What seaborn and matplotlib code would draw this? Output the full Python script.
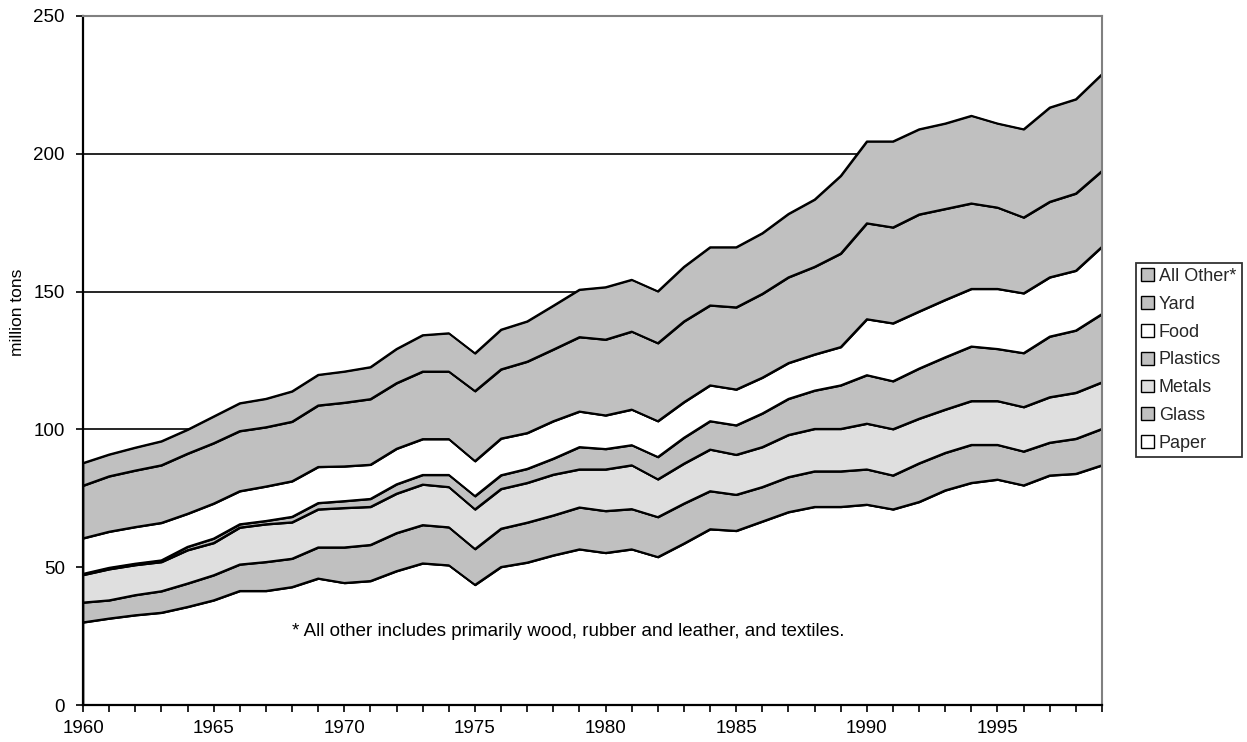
import numpy as np
import pandas as pd
import seaborn as sns
import matplotlib
matplotlib.use("Agg")
import matplotlib.pyplot as plt
from matplotlib.patches import Patch

years = list(range(1960, 2000))

paper = [30.0, 31.4, 32.6, 33.5, 35.6, 38.0, 41.4, 41.4, 42.8, 45.9,
         44.3, 45.0, 48.6, 51.4, 50.7, 43.6, 50.1, 51.7, 54.3, 56.5,
         55.2, 56.5, 53.7, 58.6, 63.8, 63.2, 66.6, 70.0, 71.9, 71.9,
         72.7, 71.0, 73.7, 77.9, 80.6, 81.8, 79.7, 83.3, 83.9, 87.0]
glass = [7.2, 6.6, 7.3, 7.8, 8.5, 9.1, 9.6, 10.5, 10.3, 11.3,
         12.9, 13.1, 13.8, 13.9, 13.8, 13.0, 13.9, 14.5, 14.5, 15.2,
         15.2, 14.6, 14.5, 14.5, 13.8, 13.1, 12.5, 12.7, 12.9, 12.9,
         12.8, 12.3, 14.0, 13.6, 13.8, 12.6, 12.3, 11.9, 12.7, 13.2]
metals = [10.0, 11.3, 10.9, 10.6, 12.1, 11.7, 13.4, 13.7, 13.2, 13.8,
          14.3, 13.8, 14.3, 14.7, 14.6, 14.4, 14.4, 14.4, 14.8, 13.8,
          15.1, 15.9, 13.7, 14.5, 15.1, 14.5, 14.5, 15.3, 15.4, 15.4,
          16.6, 16.8, 16.2, 15.7, 15.9, 15.9, 16.1, 16.5, 16.7, 16.9]
plastics = [0.4, 0.5, 0.5, 0.6, 1.2, 1.6, 1.2, 1.2, 2.0, 2.3,
            2.5, 2.9, 3.4, 3.5, 4.4, 4.8, 5.0, 5.1, 5.8, 8.1,
            7.4, 7.3, 8.1, 9.4, 10.3, 10.7, 12.2, 13.1, 13.9, 15.8,
            17.6, 17.4, 18.2, 19.0, 19.8, 18.9, 19.6, 22.0, 22.6, 24.8]
food = [12.9, 13.1, 13.3, 13.6, 12.0, 12.7, 12.0, 12.5, 12.9, 13.1,
        12.6, 12.4, 12.9, 13.0, 13.0, 12.7, 13.3, 13.0, 13.6, 12.9,
        12.2, 12.9, 13.0, 12.9, 13.0, 13.0, 13.0, 13.0, 13.1, 13.9,
        20.3, 21.0, 20.7, 20.8, 20.9, 21.8, 21.7, 21.5, 21.7, 24.4]
yard = [19.1, 20.1, 20.5, 20.9, 21.8, 21.9, 21.8, 21.5, 21.6, 22.3,
        23.1, 23.8, 23.8, 24.5, 24.5, 25.4, 25.1, 25.9, 26.0, 27.0,
        27.5, 28.3, 28.3, 29.3, 29.0, 29.8, 30.4, 31.1, 31.8, 33.9,
        34.8, 34.8, 35.2, 33.0, 31.0, 29.5, 27.5, 27.4, 28.0, 27.5]
all_other = [8.2, 7.9, 8.3, 8.7, 8.7, 9.7, 10.1, 10.3, 11.0, 11.1,
             11.3, 11.6, 12.4, 13.2, 13.9, 13.7, 14.4, 14.6, 15.9, 17.2,
             19.0, 18.8, 18.8, 19.8, 21.1, 21.8, 22.0, 23.0, 24.4, 28.2,
             29.7, 31.2, 30.9, 31.0, 31.8, 30.5, 32.0, 34.2, 34.2, 35.1]

categories = ["Paper", "Glass", "Metals", "Plastics", "Food", "Yard", "All Other*"]
x_tick_labels = ["1960", "1965", "1970", "1975", "1980", "1985", "1990", "1995"]
y_ticks = [0, 50, 100, 150, 200, 250]
footnote = "* All other includes primarily wood, rubber and leather, and textiles."

colors = ["#FFFFFF", "#C0C0C0", "#DFDFDF", "#C0C0C0", "#FFFFFF", "#C0C0C0", "#C0C0C0"]

sns.set_theme(style="white")
plt.rcParams["font.family"] = ["Liberation Sans", "DejaVu Sans"]

W, H = 1247, 742
fig = plt.figure(figsize=(W / 100, H / 100), dpi=100)
fig.patch.set_facecolor("white")
ax = fig.add_axes([83 / W, 1 - 705 / H, (1102 - 83) / W, (705 - 16) / H])
ax.set_facecolor("white")

layers = [paper, glass, metals, plastics, food, yard, all_other]
ax.stackplot(years, layers, colors=colors, edgecolor="black", linewidth=1.2, zorder=2)

# boundary lines through seaborn
cum = np.cumsum(np.array(layers), axis=0)
df = pd.DataFrame({
    "year": np.tile(years, len(categories)),
    "value": cum.ravel(),
    "layer": np.repeat(categories, len(years)),
})
sns.lineplot(data=df, x="year", y="value", units="layer", estimator=None,
             color="black", linewidth=1.4, ax=ax, legend=False, zorder=3)

ax.set_xlim(1960, 1999)
ax.set_ylim(0, 250)
ax.set_xticks([int(t) for t in x_tick_labels])
ax.set_xticklabels(x_tick_labels)
ax.set_xticks(years, minor=True)
ax.set_yticks(y_ticks)
ax.set_yticklabels([str(v) for v in y_ticks])
ax.set_xlabel("")
ax.set_ylabel("")

ax.set_axisbelow(True)
ax.yaxis.grid(True, color="black", linewidth=1.2)
ax.xaxis.grid(False)

ax.tick_params(axis="both", which="both", direction="out", length=5, width=1.2,
               color="black", bottom=True, left=True, labelcolor="black")
ax.tick_params(axis="x", which="major", labelsize=13.5, pad=6)
ax.tick_params(axis="y", which="major", labelsize=13.5, pad=8)

for s in ["left", "bottom"]:
    ax.spines[s].set_color("black")
    ax.spines[s].set_linewidth(1.6)
for s in ["top", "right"]:
    ax.spines[s].set_color("#808080")
    ax.spines[s].set_linewidth(1.5)
for s in ax.spines.values():
    s.set_zorder(4)

fig.text(18 / W, 1 - 312 / H, "million tons", rotation=90, ha="center", va="center",
         fontsize=12.5, color="black")

ax.text(1978.56, 26.8, footnote, ha="center", va="center", fontsize=13.5, color="black")

handles = [Patch(facecolor=c, edgecolor="black", linewidth=1.0) for c in colors]
leg = fig.legend(handles[::-1], categories[::-1], loc="center left",
                 bbox_to_anchor=(1136 / W, 1 - 360 / H), frameon=True, fancybox=False,
                 shadow=False, fontsize=13.0, handlelength=0.72, handleheight=0.72,
                 handletextpad=0.25, labelspacing=0.6, borderpad=0.3, borderaxespad=0)
leg.get_frame().set_edgecolor("black")
leg.get_frame().set_linewidth(1.3)

fig.savefig("out.png", dpi=100, facecolor="white")
